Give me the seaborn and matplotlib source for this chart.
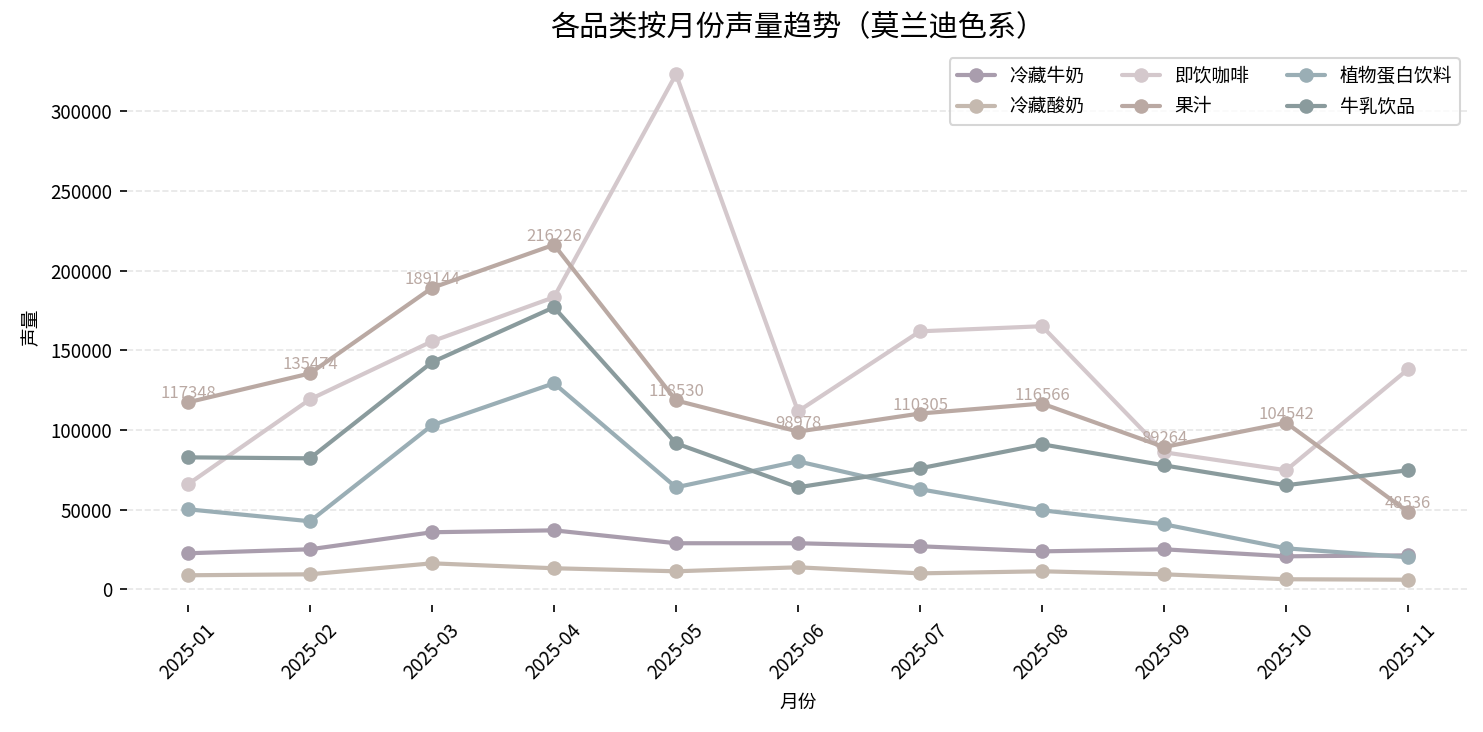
import numpy as np
import pandas as pd
import matplotlib
matplotlib.use("Agg")
import matplotlib.pyplot as plt
import seaborn as sns

months = ["2025-01", "2025-02", "2025-03", "2025-04", "2025-05", "2025-06",
          "2025-07", "2025-08", "2025-09", "2025-10", "2025-11"]

# 各品类月度声量
chilled_milk = [22600, 25100, 35800, 37000, 28900, 28900, 27000, 23800, 25100, 20700, 21300]
chilled_yogurt = [8800, 9400, 16300, 13200, 11300, 13800, 10000, 11300, 9400, 6300, 6000]
rtd_coffee = [65900, 119200, 155600, 183300, 323200, 111700, 161900, 165100, 86000, 74700, 138100]
juice = [117348, 135474, 189144, 216226, 118530, 98978, 110305, 116566, 89264, 104542, 48536]
plant_protein = [50200, 42700, 102900, 129300, 64000, 80300, 62800, 49600, 40800, 25700, 20100]
milk_drink = [82800, 82200, 142500, 177000, 91600, 64000, 75900, 91000, 77800, 65300, 74700]

series = {
    "冷藏牛奶": chilled_milk,
    "冷藏酸奶": chilled_yogurt,
    "即饮咖啡": rtd_coffee,
    "果汁": juice,
    "植物蛋白饮料": plant_protein,
    "牛乳饮品": milk_drink,
}
colors = {
    "冷藏牛奶": "#a99dad",
    "冷藏酸奶": "#c5b9af",
    "即饮咖啡": "#d4c8cc",
    "果汁": "#baa9a3",
    "植物蛋白饮料": "#9aaeb5",
    "牛乳饮品": "#8a9b9d",
}

rows = []
for name, vals in series.items():
    for m, v in zip(months, vals):
        rows.append({"月份": m, "品类": name, "声量": v})
df = pd.DataFrame(rows)

sns.set_theme(style="white")
plt.rcParams['font.family'] = ['Noto Sans CJK SC', 'DejaVu Sans']
plt.rcParams['axes.unicode_minus'] = False
plt.rcParams['text.color'] = 'black'
plt.rcParams['axes.labelcolor'] = 'black'
plt.rcParams['xtick.color'] = 'black'
plt.rcParams['ytick.color'] = 'black'

fig, ax = plt.subplots(figsize=(14.83 / 1.5, 7.32 / 1.5), dpi=150)
fig.subplots_adjust(left=0.0856, right=0.9906, bottom=0.1735, top=0.933)

sns.lineplot(data=df, x="月份", y="声量", hue="品类", palette=colors,
             marker="o", markersize=7, markeredgewidth=0, linewidth=2, ax=ax)

# 果汁数据标签
for i, v in enumerate(juice):
    ax.text(i, v, str(v), ha="center", va="bottom", fontsize=8, color=colors["果汁"])

ax.set_title("各品类按月份声量趋势（莫兰迪色系）", fontsize=14)
ax.set_xlabel("月份", fontsize=9)
ax.set_ylabel("声量", fontsize=9)
ax.tick_params(axis="both", which="major", length=3.5, width=0.8, bottom=True, left=True)
ax.tick_params(axis="x", rotation=45, labelsize=9)
ax.tick_params(axis="y", labelsize=9)
ax.grid(axis="y", linestyle="--", color="#e6e6e6", linewidth=0.8)
ax.set_axisbelow(True)
sns.despine(ax=ax, left=True, bottom=True)

ax.legend(loc="upper right", ncol=3, fontsize=9, title=None, frameon=True,
          edgecolor="#cccccc", fancybox=True)

plt.savefig("out.png", dpi=150)
